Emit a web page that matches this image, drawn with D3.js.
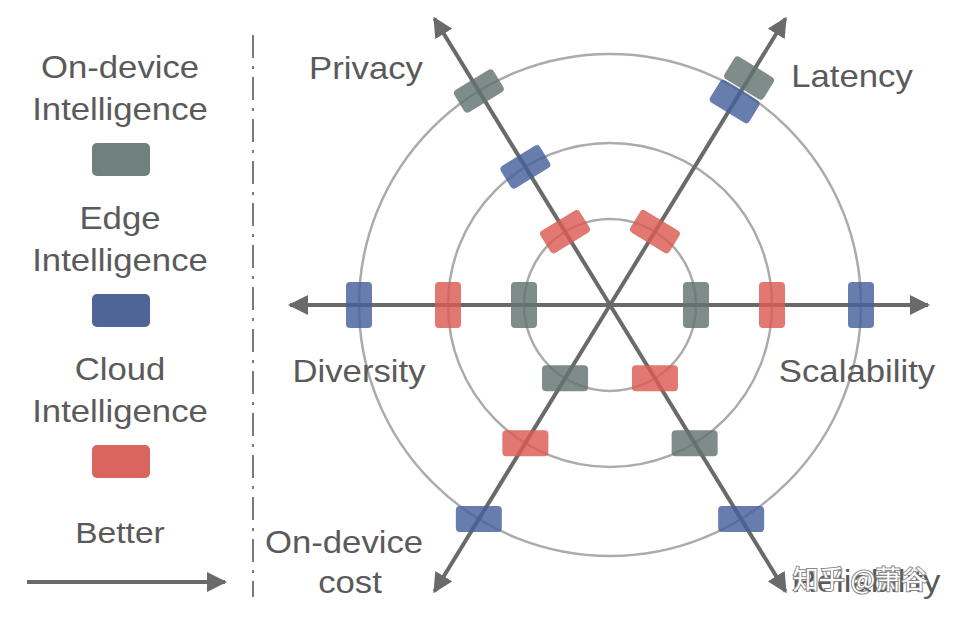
<!DOCTYPE html>
<html>
<head>
<meta charset="utf-8">
<script src="https://cdn.jsdelivr.net/npm/d3@7"></script>
<style>
  html, body { margin: 0; padding: 0; background: #fff; }
  svg { display: block; }
  text { font-family: "Liberation Sans", Arial, Helvetica, sans-serif; fill: #5a5a5a; }
</style>
</head>
<body>
<svg id="chart" width="964" height="618"></svg>
<script>
// ---- data ----
const axes = ["Privacy", "Latency", "Scalability", "Reliability", "On-device cost", "Diversity"];
const axisLabelLines = [["Privacy"], ["Latency"], ["Scalability"], ["Reliability"], ["On-device", "cost"], ["Diversity"]];
const seriesNames = ["On-device Intelligence", "Edge Intelligence", "Cloud Intelligence"];
const onDeviceValues = [3, 3.17, 1, 2, 1, 1];
const edgeValues = [2, 2.86, 3, 3, 3, 3];
const cloudValues = [1, 1, 2, 1, 2, 2];
const ringLevels = [1, 2, 3];
const legendArrowLabel = "Better";
const watermark = "知乎 @萧谷";

// ---- layout ----
const svg = d3.select("#chart");
const cx = 610, cy = 305;
const colors = ["#62746f", "#46609c", "#db5a52"];
const legendColors = ["#6f807d", "#4f6597", "#d9665e"];
const series = [onDeviceValues, edgeValues, cloudValues];
const axisAngle = { "Privacy": -121.5, "Latency": -58.5, "Scalability": 0, "Reliability": 58.5, "On-device cost": 121.5, "Diversity": 180 };
const axisLen = { "Privacy": 338, "Latency": 338, "Scalability": 320, "Reliability": 338, "On-device cost": 338, "Diversity": 322 };
const labelPos = {
  "Privacy": [366, 79], "Latency": [852, 87], "Scalability": [857, 382],
  "Reliability": [866, 592], "On-device cost": [344, 553], "Diversity": [359, 382]
};
const r = d3.scaleLinear().domain([0, 1, 2, 3]).range([0, 86, 162, 251]);
const rad = a => a * Math.PI / 180;
const pt = (ax, v) => {
  const a = rad(axisAngle[ax]);
  return [cx + Math.cos(a) * v, cy + Math.sin(a) * v];
};
const SX = 1.12;

// arrow marker
const defs = svg.append("defs");
defs.append("marker").attr("id", "arrow")
  .attr("viewBox", "0 0 20 20").attr("refX", 18).attr("refY", 10)
  .attr("markerWidth", 20).attr("markerHeight", 20)
  .attr("markerUnits", "userSpaceOnUse").attr("orient", "auto")
  .append("path").attr("d", "M0,0 L20,10 L0,20 Z").attr("fill", "#6a6a6a");

// rings
svg.append("g").selectAll("circle").data(ringLevels).join("circle")
  .attr("cx", cx).attr("cy", cy).attr("r", d => r(d))
  .attr("fill", "none").attr("stroke", "#ababab").attr("stroke-width", 2.5);

// axes
svg.append("g").selectAll("line").data(axes).join("line")
  .attr("x1", cx).attr("y1", cy)
  .attr("x2", d => pt(d, axisLen[d] - 2)[0]).attr("y2", d => pt(d, axisLen[d] - 2)[1])
  .attr("stroke", "#6a6a6a").attr("stroke-width", 4)
  .attr("marker-end", "url(#arrow)");

// markers
const markerRot = ax => {
  const a = axisAngle[ax];
  if (a === 0 || a === 180) return 90;
  if (a < 0) return a + 90;
  return 0;
};
series.forEach((vals, si) => {
  svg.append("g").selectAll("rect").data(axes.map((ax, i) => ({ ax, v: vals[i] }))).join("rect")
    .attr("x", -23).attr("y", -13).attr("width", 46).attr("height", 26).attr("rx", 4)
    .attr("fill", colors[si]).attr("fill-opacity", 0.82)
    .attr("transform", d => {
      const p = pt(d.ax, r(d.v));
      return `translate(${p[0]},${p[1]}) rotate(${markerRot(d.ax)})`;
    });
});

// axis labels
const lab = svg.append("g");
axes.forEach((ax, i) => {
  const [x, y] = labelPos[ax];
  const lines = axisLabelLines[i];
  lines.forEach((t, j) => {
    lab.append("text").attr("text-anchor", "middle").attr("font-size", 31)
      .attr("transform", `translate(${ax === "On-device cost" && j === 1 ? 350 : x},${y + j * 40}) scale(${SX},1)`)
      .text(t);
  });
});

// watermark (white text with grey outline, drawn over the label as in the source image)
svg.append("text").attr("text-anchor", "middle").attr("font-size", 26)
  .attr("x", 860).attr("y", 589)
  .style("font-family", "'Noto Sans CJK SC', sans-serif")
  .style("fill", "#fff").style("stroke", "#888").style("stroke-width", 2)
  .style("paint-order", "stroke").text(watermark);

// legend
const lg = svg.append("g");
const legendSplit = seriesNames.map(s => { const k = s.indexOf(" "); return [s.slice(0, k), s.slice(k + 1)]; });
legendSplit.forEach((lines, i) => {
  const base = 78 + i * 151;
  lines.forEach((t, j) => {
    lg.append("text").attr("text-anchor", "middle").attr("font-size", 31)
      .attr("transform", `translate(120,${base + j * 42}) scale(${SX},1)`).text(t);
  });
  lg.append("rect").attr("x", 92).attr("y", base + 65).attr("width", 58).attr("height", 33)
    .attr("rx", 5).attr("fill", legendColors[i]);
});
lg.append("text").attr("text-anchor", "middle").attr("font-size", 30)
  .attr("transform", `translate(120,543) scale(${SX},1)`).text(legendArrowLabel);
lg.append("line").attr("x1", 27).attr("y1", 582).attr("x2", 225).attr("y2", 582)
  .attr("stroke", "#6a6a6a").attr("stroke-width", 4).attr("marker-end", "url(#arrow)");

// divider
svg.append("line").attr("x1", 253).attr("x2", 253).attr("y1", 35).attr("y2", 597)
  .attr("stroke", "#7a7a7a").attr("stroke-width", 2).attr("stroke-dasharray", "23,8,3,8");
</script>
</body>
</html>
